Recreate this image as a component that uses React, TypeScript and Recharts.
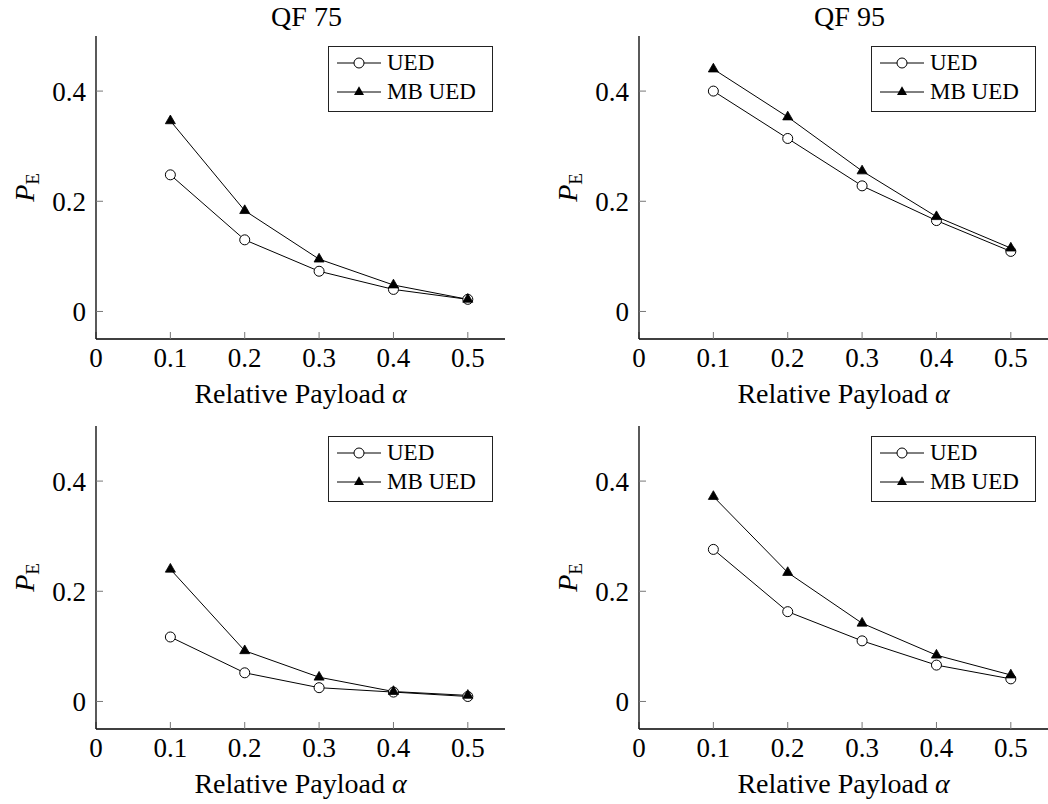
import { LineChart, Line, XAxis, YAxis, Legend } from 'recharts';

// relative payload values on the x axis
const alphas = [0.1, 0.2, 0.3, 0.4, 0.5];

// top row: QF 75 and QF 95
const uedQf75Top = [0.248, 0.130, 0.073, 0.040, 0.022];
const mbQf75Top = [0.346, 0.183, 0.095, 0.048, 0.022];
const uedQf95Top = [0.400, 0.314, 0.228, 0.165, 0.109];
const mbQf95Top = [0.440, 0.353, 0.255, 0.172, 0.115];

// bottom row
const uedQf75Bottom = [0.117, 0.052, 0.025, 0.017, 0.009];
const mbQf75Bottom = [0.240, 0.092, 0.044, 0.018, 0.011];
const uedQf95Bottom = [0.276, 0.163, 0.110, 0.066, 0.041];
const mbQf95Bottom = [0.372, 0.234, 0.142, 0.084, 0.048];

const xTicks = [0, 0.1, 0.2, 0.3, 0.4, 0.5];
const yTicks = [0, 0.2, 0.4];
const seriesNames = ['UED', 'MB UED'];

const FONT = 'Liberation Serif';
const W = 524;
const H = 430;
const PLOT_TOP = 36;
const PLOT_H = 303;
const Y_AXIS_W = 60;
const X_AXIS_H = 40;

const triPoints = (cx: number, cy: number, r: number) =>
  `${cx},${cy - r} ${cx - r * 0.866},${cy + r / 2} ${cx + r * 0.866},${cy + r / 2}`;

const TriangleDot = (props: any) => {
  const { cx, cy, index } = props;
  if (cx == null || cy == null) return <g key={`t-${index}`} />;
  return <polygon key={`t-${index}`} points={triPoints(cx, cy, 5.8)} fill="#000" stroke="#000" strokeWidth={0.8} />;
};

const LegendBox = () => (
  <div
    style={{
      width: 165,
      height: 66,
      border: '1.3px solid #222',
      background: '#fff',
      boxSizing: 'border-box',
      position: 'relative',
      fontFamily: FONT,
      fontSize: 23,
      color: '#000',
    }}
  >
    {seriesNames.map((name, i) => (
      <div
        key={name}
        style={{ position: 'absolute', left: 8, top: i === 0 ? 2 : 31, height: 28, display: 'flex', alignItems: 'center' }}
      >
        <svg width={44} height={28} style={{ display: 'block' }}>
          <line x1={0} y1={14} x2={44} y2={14} stroke="#000" strokeWidth={1} />
          {i === 0 ? (
            <circle cx={22} cy={14} r={5} fill="#fff" stroke="#000" strokeWidth={1} />
          ) : (
            <polygon points={triPoints(22, 14, 5.8)} fill="#000" />
          )}
        </svg>
        <span style={{ marginLeft: 6, lineHeight: '28px', whiteSpace: 'nowrap' }}>{name}</span>
      </div>
    ))}
  </div>
);

interface PanelProps {
  left: number;
  top: number;
  title: string;
  ued: number[];
  mb: number[];
  plotLeft: number;
  plotRight: number;
}

const Panel = ({ left, top, title, ued, mb, plotLeft, plotRight }: PanelProps) => {
  const data = alphas.map((a, i) => ({ alpha: a, ued: ued[i], mb: mb[i] }));
  const plotW = plotRight - plotLeft;
  const cx = plotLeft + plotW / 2;
  const bottom = PLOT_TOP + PLOT_H;

  const xLabel = () => (
    <text x={cx} y={bottom + 64} textAnchor="middle" fontFamily={FONT} fontSize={28} fill="#000">
      Relative Payload <tspan fontStyle="italic">α</tspan>
    </text>
  );
  const yLabel = () => {
    const lx = plotLeft - 71;
    const ly = PLOT_TOP + PLOT_H / 2;
    return (
      <text x={lx} y={ly + 9} textAnchor="middle" fontFamily={FONT} fontSize={28} fill="#000" transform={`rotate(-90, ${lx}, ${ly})`}>
        <tspan fontStyle="italic">P</tspan>
        <tspan fontSize={19} dy={5}>E</tspan>
      </text>
    );
  };

  const tickStyle = { fill: '#000', fontSize: 27, fontFamily: FONT };

  return (
    <div style={{ position: 'absolute', left, top, width: W, height: H }}>
      {title && (
        <div
          style={{
            position: 'absolute',
            left: cx + 6 - 100,
            width: 200,
            top: 0,
            textAlign: 'center',
            fontFamily: FONT,
            fontSize: 28,
            lineHeight: '34px',
            color: '#000',
          }}
        >
          {title}
        </div>
      )}
      <LineChart
        width={W}
        height={H}
        data={data}
        margin={{ top: PLOT_TOP, right: W - plotRight, bottom: H - bottom - X_AXIS_H, left: plotLeft - Y_AXIS_W }}
      >
        <XAxis
          type="number"
          dataKey="alpha"
          domain={[0, 0.55]}
          allowDataOverflow
          ticks={xTicks}
          tickFormatter={(v: number) => String(v)}
          height={X_AXIS_H}
          tickSize={-7}
          tickMargin={16}
          axisLine={{ stroke: '#000', strokeWidth: 1.3 }}
          tickLine={{ stroke: '#777' }}
          tick={tickStyle}
          label={{ content: xLabel }}
        />
        <XAxis
          xAxisId="top"
          orientation="top"
          type="number"
          dataKey="alpha"
          domain={[0, 0.55]}
          allowDataOverflow
          ticks={xTicks}
          height={0}
          tickSize={-7}
          axisLine={{ stroke: '#000', strokeWidth: 1.3 }}
          tickLine={{ stroke: '#777' }}
          tick={false}
        />
        <YAxis
          type="number"
          domain={[-0.05, 0.5]}
          allowDataOverflow
          ticks={yTicks}
          tickFormatter={(v: number) => String(v)}
          width={Y_AXIS_W}
          tickSize={-7}
          tickMargin={17}
          axisLine={{ stroke: '#000', strokeWidth: 1.3 }}
          tickLine={{ stroke: '#777' }}
          tick={tickStyle}
          label={{ content: yLabel }}
        />
        <YAxis
          yAxisId="right"
          orientation="right"
          type="number"
          domain={[-0.05, 0.5]}
          allowDataOverflow
          ticks={yTicks}
          width={0}
          tickSize={-7}
          axisLine={{ stroke: '#000', strokeWidth: 1.3 }}
          tickLine={{ stroke: '#777' }}
          tick={false}
        />
        <Line
          type="linear"
          dataKey="ued"
          name="UED"
          stroke="#000"
          strokeWidth={1}
          dot={{ r: 5, fill: '#fff', stroke: '#000', strokeWidth: 1 }}
          activeDot={false}
          isAnimationActive={false}
        />
        <Line
          type="linear"
          dataKey="mb"
          name="MB UED"
          stroke="#000"
          strokeWidth={1}
          dot={TriangleDot}
          activeDot={false}
          isAnimationActive={false}
        />
        <Legend
          layout="horizontal"
          align="center"
          verticalAlign="middle"
          content={LegendBox}
          wrapperStyle={{ position: 'absolute', left: plotRight - 12 - 165, top: PLOT_TOP + 10, width: 165, height: 66, margin: 0 }}
        />
      </LineChart>
    </div>
  );
};

export default function App() {
  return (
    <div style={{ position: 'absolute', left: 0, top: 0, width: 1048, height: 804, background: '#fff', overflow: 'hidden' }}>
      <Panel left={0} top={0} title="QF 75" ued={uedQf75Top} mb={mbQf75Top} plotLeft={96} plotRight={505} />
      <Panel left={524} top={0} title="QF 95" ued={uedQf95Top} mb={mbQf95Top} plotLeft={115} plotRight={524} />
      <Panel left={0} top={390} title="" ued={uedQf75Bottom} mb={mbQf75Bottom} plotLeft={96} plotRight={505} />
      <Panel left={524} top={390} title="" ued={uedQf95Bottom} mb={mbQf95Bottom} plotLeft={115} plotRight={524} />
    </div>
  );
}
